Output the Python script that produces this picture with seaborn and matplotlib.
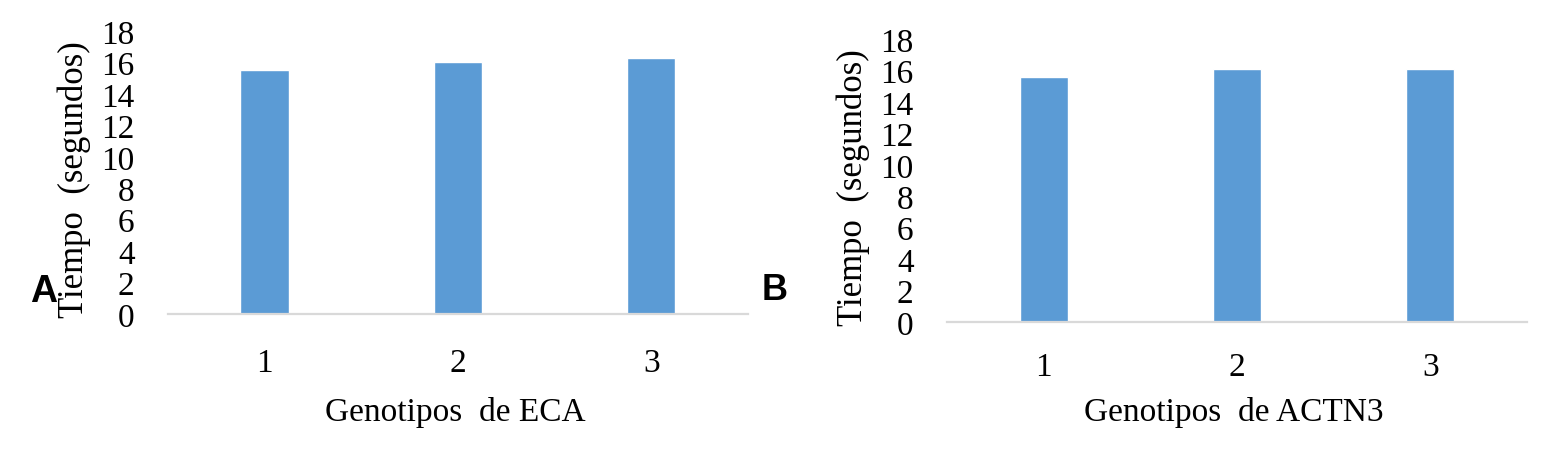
import matplotlib
matplotlib.use("Agg")
import matplotlib.pyplot as plt
import seaborn as sns

# data
genotipos = ["1", "2", "3"]
tiempo_eca = [15.5, 16.0, 16.3]
tiempo_actn3 = [15.6, 16.1, 16.1]
yticks = list(range(0, 19, 2))

sns.set_style("white")
plt.rcParams["font.family"] = ["Liberation Serif", "DejaVu Serif"]
plt.rcParams["text.color"] = "black"
plt.rcParams["axes.labelcolor"] = "black"
plt.rcParams["xtick.color"] = "black"
plt.rcParams["ytick.color"] = "black"

W, H = 1547, 452
fig = plt.figure(figsize=(W / 100, H / 100), dpi=100)
ax1 = fig.add_axes([168 / W, 1 - 315 / H, 580 / W, 283 / H])
ax2 = fig.add_axes([947 / W, 1 - 323 / H, 580 / W, 283 / H])

bar_color = "#5B9BD5"

for ax, vals, xlab, xpad in [(ax1, tiempo_eca, "Genotipos  de ECA", 24),
                             (ax2, tiempo_actn3, "Genotipos  de ACTN3", 21)]:
    sns.barplot(x=genotipos, y=vals, color=bar_color, saturation=1, width=0.25, ax=ax)
    ax.set_ylim(0, 18)
    ax.set_yticks(yticks)
    ax.set_xlim(-0.5, 2.5)
    for s in ["top", "right", "left"]:
        ax.spines[s].set_visible(False)
    ax.spines["bottom"].set_color("#D9D9D9")
    ax.spines["bottom"].set_linewidth(1.6)
    ax.tick_params(axis="y", length=0, pad=24, labelsize=24)
    ax.tick_params(axis="x", length=0, pad=xpad, labelsize=24)
    ax.set_xlabel(xlab, fontsize=24)
    ax.set_ylabel("Tiempo  (segundos)", fontsize=25)
    ax.grid(False)

ax1.xaxis.set_label_coords(0.495, -0.288)
ax2.xaxis.set_label_coords(0.495, -0.262)
ax1.yaxis.set_label_coords(-0.132, 0.48)
ax2.yaxis.set_label_coords(-0.132, 0.477)

fig.text(30 / W, 1 - 302 / H, "A", fontfamily="Liberation Sans", fontweight="bold",
         fontsize=27, va="baseline")
fig.text(762 / W, 1 - 300 / H, "B", fontfamily="Liberation Sans", fontweight="bold",
         fontsize=26, va="baseline")

fig.savefig("out.png", dpi=100)
